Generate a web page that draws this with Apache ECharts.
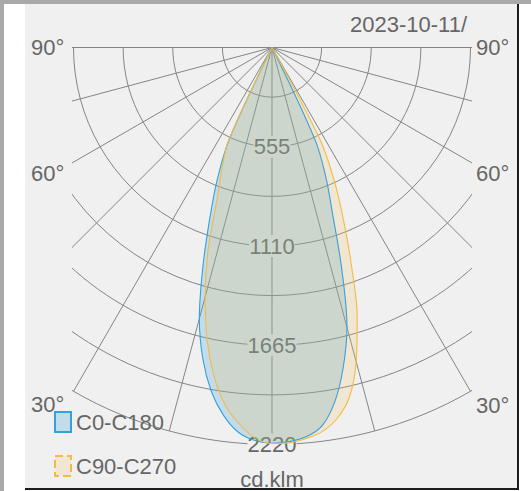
<!DOCTYPE html>
<html>
<head>
<meta charset="utf-8">
<script src="https://cdn.jsdelivr.net/npm/echarts@6/dist/echarts.min.js"></script>
<style>
html,body{margin:0;padding:0;background:#fff;}
#c{width:531px;height:491px;}
</style>
</head>
<body>
<div id="c"></div>
<script>
// polar angles (degrees from nadir), same for both half-planes
const thetaDeg = [0, 2.5, 5, 7.5, 10, 12.5, 15, 17.5, 20, 22.5, 25, 27.5, 30, 45, 60, 75, 90];
// C0-C180 (blue): right half and left half, cd/klm
const c0Right   = [2213, 2206, 2185, 2135, 2015, 1837, 1620, 1295, 990, 790, 570, 0, 0, 0, 0, 0, 0];
const c180Left  = [2213, 2200, 2160, 2075, 1953, 1785, 1570, 1285, 1017, 800, 560, 0, 0, 0, 0, 0, 0];
// C90-C270 (orange)
const c90Right  = [2215, 2213, 2195, 2165, 2105, 2002, 1818, 1585, 1300, 1045, 825, 585, 0, 0, 0, 0, 0];
const c270Left  = [2215, 2185, 2112, 2015, 1867, 1676, 1445, 1189, 894, 730, 575, 0, 0, 0, 0, 0, 0];
const seriesNames = ['C0-C180', 'C90-C270'];
const ringLabels = [555, 1110, 1665, 2220];
const ringMax = 2220;
const ringStep = 277.5;
const angleLabels = ['90°', '60°', '30°'];
const dateText = '2023-10-11/';
const unitText = 'cd.klm';

const FONT = "'Liberation Sans', Arial, Helvetica, sans-serif";
const TEXT = '#666666';
const GRID = '#858585';
const BG = '#f0f0f0';
const BLUE = '#36a0dc';
const BLUE_FILL = 'rgba(54,160,220,0.24)';
const ORANGE = '#f2bb45';
const ORANGE_FILL = 'rgba(245,192,85,0.2)';

function buildCurve(left, right) {
  const pts = [];
  for (let i = thetaDeg.length - 1; i >= 0; i--) pts.push([left[i], 360 - thetaDeg[i]]);
  for (let i = 1; i < thetaDeg.length; i++) pts.push([right[i], thetaDeg[i]]);
  return pts;
}

const chart = echarts.init(document.getElementById('c'), null, {renderer: 'svg'});

function rect(x, y, w, h, fill, z) {
  return {type: 'rect', silent: true, z: z, shape: {x: x, y: y, width: w, height: h}, style: {fill: fill}};
}
function txt(t, x, y, align) {
  return {type: 'text', silent: true, z: 100, x: x, y: y,
    style: {text: t, fill: TEXT, fontSize: 22, fontFamily: FONT, align: align, verticalAlign: 'middle'}};
}

const angleYs = [47, 173, 404];
const graphicEls = [
  // clip the grid to the plot rectangle
  rect(0, 0, 531, 47, BG, 50),
  rect(0, 0, 72, 491, BG, 50),
  rect(472, 0, 59, 491, BG, 50),
  // frame
  rect(4, 4, 21, 487, '#ffffff', 60),
  rect(519, 4, 12, 487, '#ffffff', 60),
  rect(25, 490, 506, 1, '#ffffff', 60),
  rect(517, 4, 2, 486, '#1c1c1c', 61),
  rect(25, 488, 494, 2, '#1c1c1c', 61),
  rect(0, 0, 531, 4, '#a9a9a9', 62),
  rect(0, 0, 4, 491, '#a9a9a9', 62),
  txt(dateText, 467, 24, 'right'),
  txt(unitText, 272, 479, 'center')
];
angleLabels.forEach(function (lab, i) {
  graphicEls.push(txt(lab, 31, angleYs[i], 'left'));
  graphicEls.push(txt(lab, 476, angleYs[i] + (i === 2 ? 1 : 0), 'left'));
});

const option = {
  backgroundColor: BG,
  animation: false,
  polar: {center: [272, 47.5], radius: 397},
  angleAxis: {
    type: 'value', min: 0, max: 360, interval: 15, startAngle: 270, clockwise: false, z: 1,
    axisLine: {show: false}, axisTick: {show: false}, axisLabel: {show: false},
    splitLine: {show: true, lineStyle: {color: GRID, width: 1}}
  },
  radiusAxis: {
    type: 'value', min: 0, max: ringMax, interval: ringStep, z: 2,
    axisLine: {show: false}, axisTick: {show: false},
    axisLabel: {
      formatter: function (v) {
        for (const r of ringLabels) { if (Math.abs(v - r) < 1e-6) return String(r); }
        return '';
      },
      fontSize: 22, color: TEXT, fontFamily: FONT, margin: 0, rotate: 0,
      align: 'center', verticalAlign: 'middle', backgroundColor: BG, padding: 0
    },
    splitLine: {show: true, lineStyle: {color: GRID, width: 1}}
  },
  legend: {
    orient: 'vertical', left: 49, top: 406, z: 100,
    itemWidth: 16, itemHeight: 20, itemGap: 22,
    textStyle: {fontSize: 22, color: TEXT, fontFamily: FONT},
    data: [
      {name: seriesNames[0], icon: 'rect', itemStyle: {color: BLUE_FILL, borderColor: BLUE, borderWidth: 2}},
      {name: seriesNames[1], icon: 'rect', itemStyle: {color: ORANGE_FILL, borderColor: ORANGE, borderWidth: 2, borderType: 'dashed'}}
    ]
  },
  series: [
    {
      name: seriesNames[0], type: 'line', coordinateSystem: 'polar', z: 3,
      symbol: 'none', showSymbol: false, smooth: 0.35,
      data: buildCurve(c180Left, c0Right),
      itemStyle: {color: BLUE},
      lineStyle: {color: BLUE, width: 1.1},
      areaStyle: {color: BLUE_FILL, opacity: 1}
    },
    {
      name: seriesNames[1], type: 'line', coordinateSystem: 'polar', z: 3,
      symbol: 'none', showSymbol: false, smooth: 0.35,
      data: buildCurve(c270Left, c90Right),
      itemStyle: {color: ORANGE},
      lineStyle: {color: ORANGE, width: 1.1},
      areaStyle: {color: ORANGE_FILL, opacity: 1}
    }
  ],
  graphic: {elements: graphicEls}
};
chart.setOption(option);
</script>
</body>
</html>
